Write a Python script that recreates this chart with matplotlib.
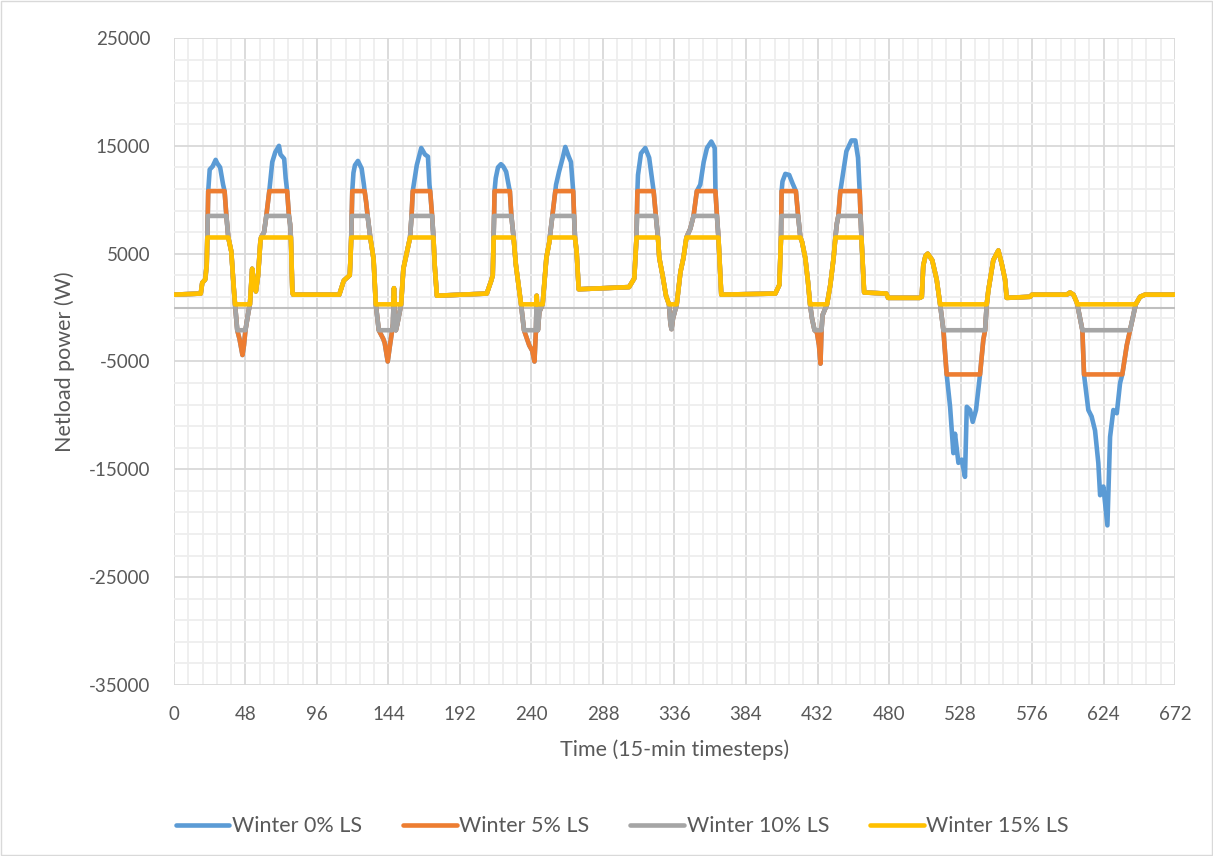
import numpy as np
import matplotlib.pyplot as plt
from matplotlib.ticker import MultipleLocator, FixedLocator
from matplotlib.patches import Rectangle

plt.rcParams['font.family'] = ['Lato', 'DejaVu Sans']
plt.rcParams['axes.unicode_minus'] = False

# ---Data (timestep, W)---
winter_0 = [
    (0, 1200), (18, 1300), (19, 2300), (21, 2600), (22, 4000), (22.4, 6500), (22.7, 8500), (23, 10800),
    (24, 12800), (26, 13100), (28, 13700), (29, 13400), (31, 13000), (33, 11400), (34, 10800), (35.2, 8500),
    (36.5, 6500), (38.5, 5200), (40, 2100), (41, 300), (42.5, -2100), (44, -2900), (46, -4400), (47, -3500),
    (48, -2100), (50, -400), (51, 300), (52.5, 3600), (53.5, 2500), (55, 1500), (56.5, 3000), (58, 6100),
    (58.5, 6500), (60.5, 7000), (62, 8500), (64, 10800), (66, 13500), (68, 14400), (70.5, 15000),
    (71.5, 14200), (74, 13800), (75, 12000), (76, 10800), (77.2, 8500), (78, 7700), (78.5, 6500),
    (79.5, 1400), (80, 1200),
    (111, 1200), (114, 2500), (118, 3000), (118.5, 4500), (119, 6500), (119.3, 8500), (119.7, 10800),
    (120.5, 12500), (121.5, 13200), (123.5, 13600), (126, 12900), (127.5, 11400), (128, 10800), (129, 9800),
    (130, 8500), (131.8, 6500), (134, 4500), (135.5, 300), (137.5, -2100), (140.5, -2900), (141.5, -3300),
    (143.5, -5000), (145, -3500), (146.5, -2100), (147, -1500), (147.7, 1800), (148.3, -1800), (149, -2100),
    (150, -1500), (151.5, -400), (152.5, 300), (154, 3600), (156, 4900), (158.5, 6500), (159.5, 8500),
    (160.3, 10800), (163, 13200), (166, 14800), (168.5, 14200), (170.5, 14000), (171.5, 11400),
    (172, 10800), (173.3, 8500), (174.2, 6500), (175, 4000), (176.5, 1100),
    (210, 1300), (213, 2500), (214, 3000), (214.6, 6500), (214.9, 8500), (215.2, 10800), (216, 12000),
    (217.5, 13000), (219.5, 13300), (221, 13100), (223, 12600), (225, 11100), (225.5, 10800), (226.5, 8500),
    (228, 6500), (229.5, 4000), (233, 300), (235, -2100), (238.5, -3500), (240.5, -4000), (242, -5000),
    (243, -2100), (243.5, 1100), (244.3, -2100), (245.3, -400), (247.5, 300), (250, 4600), (252, 6100),
    (252.3, 6500), (254, 8500), (256, 10800), (256.5, 11400), (258.5, 12600), (261, 13900), (262.7, 14900),
    (265, 14000), (266.5, 13500), (268, 10800), (268.6, 8500), (269.2, 6500), (270.3, 5200), (271.7, 1700),
    (305.5, 1900), (309, 2700), (310.5, 6500), (310.8, 8500), (311.1, 10800), (311.5, 12300),
    (313.5, 14300), (316.4, 14800), (319, 13900), (321.4, 11400), (322, 10800), (323.5, 8500),
    (324.9, 6500), (325.8, 4600), (328, 3000), (330.3, 1100), (332.3, 300), (333.3, -1500), (334, -2000),
    (335, -1000), (337.5, 300),
    (340, 3300), (342, 4600), (344, 6500), (346.6, 7300), (348.8, 8500), (351, 10800), (353.3, 11400),
    (355.6, 13500), (357.8, 14800), (360.7, 15400), (363, 14800), (363.5, 10800), (364.5, 8500),
    (365.5, 6500), (367.4, 1200), (403.7, 1300), (406.4, 2100), (407.5, 6500), (407.7, 8500),
    (407.9, 10800), (408.5, 11700), (410.4, 12400), (413, 12300), (415.3, 11500), (417.5, 10800),
    (419, 8500), (420.5, 6500), (421.6, 6100), (423.8, 4600), (425.6, 2400), (427, 300), (428.3, -1000),
    (430, -2100), (431.6, -2300), (433, -3500), (434, -5200), (434.7, -2100), (435.4, -700), (438.4, 300),
    (440.6, 2100), (442.8, 4600), (444, 6500), (445, 7800), (446, 8500), (447.3, 10800), (448, 11400),
    (451.4, 14500), (454.8, 15500), (457.4, 15500), (459.2, 13900), (460.3, 10800), (460.9, 8500),
    (461.5, 6500), (463.3, 1400), (478.2, 1300), (479.4, 900),
    (500.6, 900), (502, 1000), (503, 3900), (504.5, 4800), (506, 5000), (509, 4400), (512, 2600),
    (514.3, 300), (516.5, -2100), (518.7, -6200), (521, -9200), (523.2, -13500), (524.3, -11700),
    (526.6, -14400), (528.8, -14100), (531, -15700), (532.2, -9200), (534.4, -9500), (536.2, -10600),
    (538.4, -9500), (541.1, -6200), (543.3, -3000), (544.5, -2100), (545.6, 300), (546.7, 1600),
    (550, 4400), (553.4, 5300), (555.6, 4100), (557.9, 2600), (559, 900), (574.7, 1000), (576, 1200),
    (599.3, 1200), (601.5, 1400), (603.8, 1200), (606, 500), (606.4, 300), (609.8, -2100), (610.9, -6200),
    (613.8, -9500), (616, -10100), (618.3, -11400), (620.5, -14400), (621.7, -17400), (623.9, -16600),
    (626.6, -20200), (628.4, -12000), (630.6, -9500), (632.9, -9800), (635.1, -7000), (636.6, -6200),
    (639.6, -3500), (641.8, -2100), (645.6, 300), (648.5, 1000), (651.9, 1200), (672, 1200),
]

winter_5 = [
    (0, 1200), (18, 1300), (19, 2300), (21, 2600), (22, 4000), (22.4, 6500), (22.7, 8500), (23, 10800),
    (34, 10800), (35.2, 8500), (36.5, 6500), (38.5, 5200), (40, 2100), (41, 300), (42.5, -2100), (44, -2900),
    (46, -4400), (47, -3500), (48, -2100), (50, -400), (51, 300), (52.5, 3600), (53.5, 2500), (55, 1500),
    (56.5, 3000), (58, 6100), (58.5, 6500), (60.5, 7000), (62, 8500), (64, 10800), (76, 10800),
    (77.2, 8500), (78, 7700), (78.5, 6500), (79.5, 1400), (80, 1200),
    (111, 1200), (114, 2500), (118, 3000), (118.5, 4500), (119, 6500), (119.3, 8500), (119.7, 10800),
    (128, 10800), (129, 9800), (130, 8500), (131.8, 6500), (134, 4500), (135.5, 300), (137.5, -2100),
    (140.5, -2900), (141.5, -3300), (143.5, -5000), (145, -3500), (146.5, -2100), (147, -1500),
    (147.7, 1800), (148.3, -1800), (149, -2100), (150, -1500), (151.5, -400), (152.5, 300), (154, 3600),
    (156, 4900), (158.5, 6500), (159.5, 8500), (160.3, 10800), (172, 10800), (173.3, 8500), (174.2, 6500),
    (175, 4000), (176.5, 1100),
    (210, 1300), (213, 2500), (214, 3000), (214.6, 6500), (214.9, 8500), (215.2, 10800), (225.5, 10800),
    (226.5, 8500), (228, 6500), (229.5, 4000), (233, 300), (235, -2100), (238.5, -3500), (240.5, -4000),
    (242, -5000), (243, -2100), (243.5, 1100), (244.3, -2100), (245.3, -400), (247.5, 300), (250, 4600),
    (252, 6100), (252.3, 6500), (254, 8500), (256, 10800), (268, 10800), (268.6, 8500), (269.2, 6500),
    (270.3, 5200), (271.7, 1700),
    (305.5, 1900), (309, 2700), (310.5, 6500), (310.8, 8500), (311.1, 10800), (322, 10800), (323.5, 8500),
    (324.9, 6500), (325.8, 4600), (328, 3000), (330.3, 1100), (332.3, 300), (333.3, -1500), (334, -2000),
    (335, -1000), (337.5, 300),
    (340, 3300), (342, 4600), (344, 6500), (346.6, 7300), (348.8, 8500), (351, 10800), (363.5, 10800),
    (364.5, 8500), (365.5, 6500), (367.4, 1200), (403.7, 1300), (406.4, 2100), (407.5, 6500),
    (407.7, 8500), (407.9, 10800), (417.5, 10800), (419, 8500), (420.5, 6500), (421.6, 6100),
    (423.8, 4600), (425.6, 2400), (427, 300), (428.3, -1000), (430, -2100), (431.6, -2300), (433, -3500),
    (434, -5200), (434.7, -2100), (435.4, -700), (438.4, 300), (440.6, 2100), (442.8, 4600), (444, 6500),
    (445, 7800), (446, 8500), (447.3, 10800), (460.3, 10800), (460.9, 8500), (461.5, 6500), (463.3, 1400),
    (478.2, 1300), (479.4, 900),
    (500.6, 900), (502, 1000), (503, 3900), (504.5, 4800), (506, 5000), (509, 4400), (512, 2600),
    (514.3, 300), (516.5, -2100), (518.7, -6200), (541.1, -6200), (543.3, -3000), (544.5, -2100),
    (545.6, 300), (546.7, 1600), (550, 4400), (553.4, 5300), (555.6, 4100), (557.9, 2600), (559, 900),
    (574.7, 1000), (576, 1200), (599.3, 1200), (601.5, 1400), (603.8, 1200), (606, 500), (606.4, 300),
    (609.8, -2100), (610.9, -6200), (636.6, -6200), (639.6, -3500), (641.8, -2100), (645.6, 300),
    (648.5, 1000), (651.9, 1200), (672, 1200),
]

winter_10 = [
    (0, 1200), (18, 1300), (19, 2300), (21, 2600), (22, 4000), (22.4, 6500), (22.7, 8500), (35.2, 8500),
    (36.5, 6500), (38.5, 5200), (40, 2100), (41, 300), (42.5, -2100), (48, -2100), (50, -400), (51, 300),
    (52.5, 3600), (53.5, 2500), (55, 1500), (56.5, 3000), (58, 6100), (58.5, 6500), (60.5, 7000),
    (62, 8500), (77.2, 8500), (78, 7700), (78.5, 6500), (79.5, 1400), (80, 1200),
    (111, 1200), (114, 2500), (118, 3000), (118.5, 4500), (119, 6500), (119.3, 8500), (130, 8500),
    (131.8, 6500), (134, 4500), (135.5, 300), (137.5, -2100), (146.5, -2100), (147, -1500), (147.7, 1800),
    (148.3, -1800), (149, -2100), (150, -1500), (151.5, -400), (152.5, 300), (154, 3600), (156, 4900),
    (158.5, 6500), (159.5, 8500), (173.3, 8500), (174.2, 6500), (175, 4000), (176.5, 1100),
    (210, 1300), (213, 2500), (214, 3000), (214.6, 6500), (214.9, 8500), (226.5, 8500), (228, 6500),
    (229.5, 4000), (233, 300), (235, -2100), (243, -2100), (243.5, 1100), (244.3, -2100), (245.3, -400),
    (247.5, 300), (250, 4600), (252, 6100), (252.3, 6500), (254, 8500), (268.6, 8500), (269.2, 6500),
    (270.3, 5200), (271.7, 1700),
    (305.5, 1900), (309, 2700), (310.5, 6500), (310.8, 8500), (323.5, 8500), (324.9, 6500), (325.8, 4600),
    (328, 3000), (330.3, 1100), (332.3, 300), (333.3, -1500), (334, -2000), (335, -1000), (337.5, 300),
    (340, 3300), (342, 4600), (344, 6500), (346.6, 7300), (348.8, 8500), (364.5, 8500), (365.5, 6500),
    (367.4, 1200), (403.7, 1300), (406.4, 2100), (407.5, 6500), (407.7, 8500), (419, 8500), (420.5, 6500),
    (421.6, 6100), (423.8, 4600), (425.6, 2400), (427, 300), (428.3, -1000), (430, -2100), (434.7, -2100),
    (435.4, -700), (438.4, 300), (440.6, 2100), (442.8, 4600), (444, 6500), (445, 7800), (446, 8500),
    (460.9, 8500), (461.5, 6500), (463.3, 1400), (478.2, 1300), (479.4, 900),
    (500.6, 900), (502, 1000), (503, 3900), (504.5, 4800), (506, 5000), (509, 4400), (512, 2600),
    (514.3, 300), (516.5, -2100), (544.5, -2100), (545.6, 300), (546.7, 1600), (550, 4400), (553.4, 5300),
    (555.6, 4100), (557.9, 2600), (559, 900), (574.7, 1000), (576, 1200), (599.3, 1200), (601.5, 1400),
    (603.8, 1200), (606, 500), (606.4, 300), (609.8, -2100), (641.8, -2100), (645.6, 300), (648.5, 1000),
    (651.9, 1200), (672, 1200),
]

winter_15 = [
    (0, 1200), (18, 1300), (19, 2300), (21, 2600), (22, 4000), (22.4, 6500), (36.5, 6500), (38.5, 5200),
    (40, 2100), (41, 300), (51, 300), (52.5, 3600), (53.5, 2500), (55, 1500), (56.5, 3000), (58, 6100),
    (58.5, 6500), (78.5, 6500), (79.5, 1400), (80, 1200),
    (111, 1200), (114, 2500), (118, 3000), (118.5, 4500), (119, 6500), (131.8, 6500), (134, 4500),
    (135.5, 300), (147.2, 300), (147.7, 1800), (148.2, 300), (152.5, 300), (154, 3600), (156, 4900),
    (158.5, 6500), (174.2, 6500), (175, 4000), (176.5, 1100),
    (210, 1300), (213, 2500), (214, 3000), (214.6, 6500), (228, 6500), (229.5, 4000), (233, 300),
    (243.3, 300), (243.5, 1100), (243.8, 300), (247.5, 300), (250, 4600), (252, 6100), (252.3, 6500),
    (269.2, 6500), (270.3, 5200), (271.7, 1700),
    (305.5, 1900), (309, 2700), (310.5, 6500), (324.9, 6500), (325.8, 4600), (328, 3000), (330.3, 1100),
    (332.3, 300), (337.5, 300),
    (340, 3300), (342, 4600), (344, 6500), (365.5, 6500), (367.4, 1200), (403.7, 1300), (406.4, 2100),
    (407.5, 6500), (420.5, 6500), (421.6, 6100), (423.8, 4600), (425.6, 2400), (427, 300), (438.4, 300),
    (440.6, 2100), (442.8, 4600), (444, 6500), (461.5, 6500), (463.3, 1400), (478.2, 1300), (479.4, 900),
    (500.6, 900), (502, 1000), (503, 3900), (504.5, 4800), (506, 5000), (509, 4400), (512, 2600),
    (514.3, 300), (545.6, 300), (546.7, 1600), (550, 4400), (553.4, 5300), (555.6, 4100), (557.9, 2600),
    (559, 900), (574.7, 1000), (576, 1200), (599.3, 1200), (601.5, 1400), (603.8, 1200), (606, 500),
    (606.4, 300), (645.6, 300), (648.5, 1000), (651.9, 1200), (672, 1200),
]

series = [winter_0, winter_5, winter_10, winter_15]
labels = ["Winter 0% LS", "Winter 5% LS", "Winter 10% LS", "Winter 15% LS"]
colors = ["#5B9BD5", "#ED7D31", "#A5A5A5", "#FFC000"]

y_ticks = [-35000, -25000, -15000, -5000, 5000, 15000, 25000]

# ---Plot---
fig = plt.figure(figsize=(12.13, 8.56), dpi=100)
ax = fig.add_axes([0.1434, 0.1998, 0.8253, 0.7558])

for data, lab, c in zip(series, labels, colors):
    t, p = zip(*data)
    ax.plot(t, p, color=c, lw=3.3, label=lab, solid_joinstyle='round', solid_capstyle='round', zorder=3)

ax.set_xlim(0, 672)
ax.set_ylim(-35000, 25000)
ax.xaxis.set_major_locator(MultipleLocator(48))
ax.xaxis.set_minor_locator(MultipleLocator(9.6))
ax.yaxis.set_major_locator(FixedLocator(y_ticks))
ax.yaxis.set_minor_locator(MultipleLocator(2000, offset=1000))
ax.grid(which='major', color='#D9D9D9', lw=1.3, zorder=0)
ax.grid(which='minor', color='#EEEEEE', lw=1.3, zorder=0)
ax.set_axisbelow(True)
ax.axhline(0, color='#BFBFBF', lw=1.5, zorder=1)
for s in ax.spines.values():
    s.set_visible(False)
ax.tick_params(which='both', length=0, labelsize=13.5, labelcolor='#595959')
ax.tick_params(axis='x', pad=15)
ax.tick_params(axis='y', pad=17)

ax.set_xlabel("Time (15-min timesteps)", fontsize=15.5, color='#595959', labelpad=12)
ax.set_ylabel("Netload power (W)", fontsize=15.5, color='#595959', labelpad=10)

fig.legend(loc='center', bbox_to_anchor=(0.513, 0.035), ncol=4, frameon=False,
           fontsize=15.5, labelcolor='#595959', handlelength=2.5, handletextpad=0.12,
           columnspacing=1.9)

fig.patches.append(Rectangle((0.001, 0.001), 0.998, 0.998, transform=fig.transFigure,
                             fill=False, edgecolor='#D9D9D9', lw=1))

plt.savefig("out.png", dpi=100)
